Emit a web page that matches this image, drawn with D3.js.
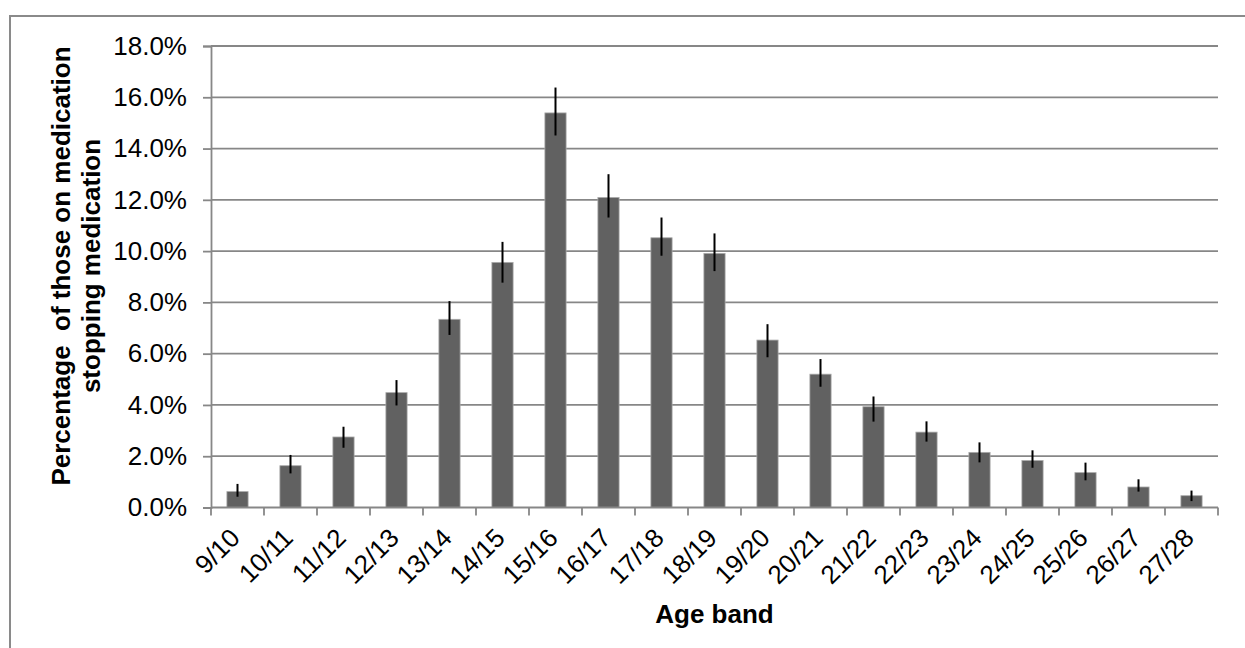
<!DOCTYPE html>
<html>
<head>
<meta charset="utf-8">
<script src="https://cdn.jsdelivr.net/npm/d3@7"></script>
<style>
  html, body { margin: 0; padding: 0; background: #fff; }
  svg { display: block; font-family: "Liberation Sans", Arial, sans-serif; }
</style>
</head>
<body>
<svg id="chart" width="1245" height="648"></svg>
<script>
// Age bands and share of patients stopping medication (%), with error bar bounds
const categories = ["9/10", "10/11", "11/12", "12/13", "13/14", "14/15", "15/16", "16/17", "17/18", "18/19",
  "19/20", "20/21", "21/22", "22/23", "23/24", "24/25", "25/26", "26/27", "27/28"];
const values  = [0.62, 1.63, 2.75, 4.48, 7.34, 9.56, 15.39, 12.09, 10.52, 9.91, 6.53, 5.20, 3.93, 2.94, 2.15, 1.83, 1.36, 0.80, 0.46];
const errLow  = [0.42, 1.33, 2.33, 3.98, 6.73, 8.77, 14.51, 11.31, 9.82, 9.22, 5.86, 4.71, 3.35, 2.57, 1.76, 1.55, 1.06, 0.62, 0.25];
const errHigh = [0.92, 2.05, 3.15, 4.97, 8.05, 10.36, 16.38, 13.00, 11.31, 10.69, 7.15, 5.79, 4.33, 3.36, 2.54, 2.23, 1.75, 1.10, 0.66];
const yTicks  = [0, 2, 4, 6, 8, 10, 12, 14, 16, 18];

const rows = categories.map((c, i) => ({ c, v: values[i], lo: errLow[i], hi: errHigh[i] }));

const svg = d3.select("#chart");
const plot = { left: 211, right: 1218, top: 46, bottom: 507.5 };

// chart frame
svg.append("rect")
  .attr("x", 10).attr("y", 16).attr("width", 1400).attr("height", 800)
  .attr("fill", "none").attr("stroke", "#8a8a8a").attr("stroke-width", 2);

const x = d3.scaleBand().domain(categories).range([plot.left, plot.right])
  .paddingInner(0.6).paddingOuter(0.3);
const xEdges = d3.scaleBand().domain(categories).range([plot.left, plot.right]).padding(0);
const y = d3.scaleLinear().domain([0, 18]).range([plot.bottom, plot.top]);

// horizontal gridlines
svg.append("g").selectAll("line").data(yTicks.filter(d => d > 0)).join("line")
  .attr("x1", plot.left).attr("x2", plot.right)
  .attr("y1", d => y(d)).attr("y2", d => y(d))
  .attr("stroke", "#878787").attr("stroke-width", 1.8);

// y axis
const yAxis = svg.append("g").attr("transform", `translate(${plot.left},0)`)
  .call(d3.axisLeft(y).tickValues(yTicks).tickFormat(d => d.toFixed(1) + "%").tickSize(8).tickPadding(16));
yAxis.select(".domain").attr("stroke", "#878787").attr("stroke-width", 1.8);
yAxis.selectAll(".tick line").attr("stroke", "#878787").attr("stroke-width", 1.8);
yAxis.selectAll(".tick text").attr("font-size", 26).attr("fill", "#000")
  .attr("font-family", "'Liberation Sans', Arial, sans-serif");

// bars
svg.append("g").selectAll("rect").data(rows).join("rect")
  .attr("x", d => x(d.c)).attr("width", x.bandwidth())
  .attr("y", d => y(d.v)).attr("height", d => y(0) - y(d.v))
  .attr("fill", "#616161").attr("stroke", "#a9a9a9").attr("stroke-width", 0.8);

// error bars
svg.append("g").selectAll("line").data(rows).join("line")
  .attr("x1", d => x(d.c) + x.bandwidth() / 2).attr("x2", d => x(d.c) + x.bandwidth() / 2)
  .attr("y1", d => y(d.hi)).attr("y2", d => y(d.lo))
  .attr("stroke", "#000").attr("stroke-width", 2);

// x axis line and boundary ticks
const xg = svg.append("g");
xg.append("line").attr("x1", plot.left).attr("x2", plot.right)
  .attr("y1", y(0)).attr("y2", y(0)).attr("stroke", "#878787").attr("stroke-width", 1.8);
const edges = categories.map(c => xEdges(c)).concat([plot.right]);
xg.selectAll("line.edge").data(edges).join("line").attr("class", "edge")
  .attr("x1", d => d).attr("x2", d => d)
  .attr("y1", y(0)).attr("y2", y(0) + 8)
  .attr("stroke", "#878787").attr("stroke-width", 1.8);

// rotated category labels
svg.append("g").selectAll("text").data(categories).join("text")
  .attr("transform", c => `translate(${x(c) + x.bandwidth() / 2 + 4},${plot.bottom + 32}) rotate(-45)`)
  .attr("text-anchor", "end").attr("font-size", 26).attr("fill", "#000")
  .text(c => c);

// axis titles
svg.append("text").attr("x", (plot.left + plot.right) / 2).attr("y", 623)
  .attr("text-anchor", "middle").attr("font-size", 26).attr("font-weight", "bold")
  .text("Age band");

const yTitle = svg.append("text")
  .attr("transform", "translate(0,266) rotate(-90)")
  .attr("text-anchor", "middle").attr("font-size", 26).attr("font-weight", "bold")
  .attr("xml:space", "preserve");
yTitle.append("tspan").attr("x", 0).attr("y", 70).text("Percentage  of those on medication");
yTitle.append("tspan").attr("x", 0).attr("y", 100).text("stopping medication");
</script>
</body>
</html>
